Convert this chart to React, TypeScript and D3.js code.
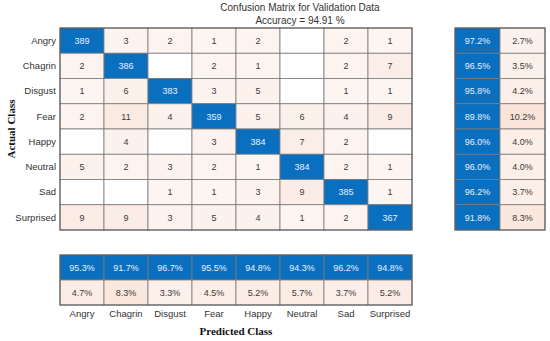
import React from 'react';
import * as d3 from 'd3';

const classes = ['Angry', 'Chagrin', 'Disgust', 'Fear', 'Happy', 'Neutral', 'Sad', 'Surprised'];

// rows = actual, cols = predicted
const angry = [389, 3, 2, 1, 2, 0, 2, 1];
const chagrin = [2, 386, 0, 2, 1, 0, 2, 7];
const disgust = [1, 6, 383, 3, 5, 0, 1, 1];
const fear = [2, 11, 4, 359, 5, 6, 4, 9];
const happy = [0, 4, 0, 3, 384, 7, 2, 0];
const neutral = [5, 2, 3, 2, 1, 384, 2, 1];
const sad = [0, 0, 1, 1, 3, 9, 385, 1];
const surprised = [9, 9, 3, 5, 4, 1, 2, 367];

const rowCorrect = [97.2, 96.5, 95.8, 89.8, 96.0, 96.0, 96.2, 91.8];
const rowWrong = [2.7, 3.5, 4.2, 10.2, 4.0, 4.0, 3.7, 8.3];
const colCorrect = [95.3, 91.7, 96.7, 95.5, 94.8, 94.3, 96.2, 94.8];
const colWrong = [4.7, 8.3, 3.3, 4.5, 5.2, 5.7, 3.7, 5.2];

const matrix = [angry, chagrin, disgust, fear, happy, neutral, sad, surprised];

const W = 550;
const H = 341;
const BLUE = '#0B6FBF';
const FONT = '"Liberation Sans", Arial, sans-serif';

const App = () => {
  const x = d3.scaleBand<string>().domain(classes).range([60, 412]);
  const y = d3.scaleBand<string>().domain(classes).range([28, 230]);
  const side = d3.scaleBand<string>().domain(['ok', 'err']).range([455, 545]);
  const bottom = d3.scaleBand<string>().domain(['ok', 'err']).range([255, 305]);

  const offMax = d3.max(matrix.flatMap((r, i) => r.filter((_, j) => j !== i))) as number;
  const offColor = d3.scaleLinear<string>().domain([1, offMax]).range(['#FDF5F2', '#FAEAE2']);
  const errColor = d3.scaleLinear<string>().domain([0, 12]).range(['#FDF6F3', '#F9E0D3']);

  const cell = (key, cx, cy, w, h, fill, label, light) => (
    <g key={key}>
      <rect x={cx} y={cy} width={w} height={h} fill={fill} stroke="#7a7a7a" strokeWidth={0.8} />
      {label !== '' && (
        <text x={cx + w / 2} y={cy + h / 2} dy="0.35em" textAnchor="middle" fontSize={9}
          fill={light ? '#e8f0ff' : '#3a3a3a'} fontFamily={FONT}>{label}</text>
      )}
    </g>
  );

  return (
    <svg width={W} height={H} style={{ position: 'absolute', left: 0, top: 0, background: '#fff' }}>
      <text x={300} y={11} textAnchor="middle" fontSize={10} fill="#333" fontFamily={FONT}>
        Confusion Matrix for Validation Data
      </text>
      <text x={300} y={24} textAnchor="middle" fontSize={10} fill="#333" fontFamily={FONT}>
        Accuracy = 94.91 %
      </text>

      {matrix.map((row, i) =>
        row.map((v, j) => {
          const fill = i === j ? BLUE : v === 0 ? '#fff' : offColor(v);
          return cell(`m${i}-${j}`, x(classes[j]), y(classes[i]), x.bandwidth(), y.bandwidth(), fill, v === 0 ? '' : String(v), i === j);
        })
      )}
      <rect x={60} y={28} width={352} height={202} fill="none" stroke="#555" strokeWidth={1} />

      {classes.map((c, i) => (
        <g key={`r${i}`}>
          {cell(`ro${i}`, side('ok'), y(c), side.bandwidth(), y.bandwidth(), BLUE, `${rowCorrect[i].toFixed(1)}%`, true)}
          {cell(`re${i}`, side('err'), y(c), side.bandwidth(), y.bandwidth(), errColor(rowWrong[i]), `${rowWrong[i].toFixed(1)}%`, false)}
          <text x={56} y={y(c) + y.bandwidth() / 2} dy="0.35em" textAnchor="end" fontSize={9.5} fill="#333" fontFamily={FONT}>{c}</text>
        </g>
      ))}
      <rect x={455} y={28} width={90} height={202} fill="none" stroke="#555" strokeWidth={1} />

      {classes.map((c, j) => (
        <g key={`c${j}`}>
          {cell(`co${j}`, x(c), bottom('ok'), x.bandwidth(), bottom.bandwidth(), BLUE, `${colCorrect[j].toFixed(1)}%`, true)}
          {cell(`ce${j}`, x(c), bottom('err'), x.bandwidth(), bottom.bandwidth(), errColor(colWrong[j]), `${colWrong[j].toFixed(1)}%`, false)}
          <text x={x(c) + x.bandwidth() / 2} y={314} dy="0.35em" textAnchor="middle" fontSize={9.5} fill="#333" fontFamily={FONT}>{c}</text>
        </g>
      ))}
      <rect x={60} y={255} width={352} height={50} fill="none" stroke="#555" strokeWidth={1} />

      <text x={236} y={335} textAnchor="middle" fontSize={11} fontWeight="bold" fill="#111" fontFamily='"Liberation Serif", "Times New Roman", serif'>
        Predicted Class
      </text>
      <text transform="translate(15,129) rotate(-90)" textAnchor="middle" fontSize={11} fontWeight="bold" fill="#111" fontFamily='"Liberation Serif", "Times New Roman", serif'>
        Actual Class
      </text>
    </svg>
  );
};

export default App;
